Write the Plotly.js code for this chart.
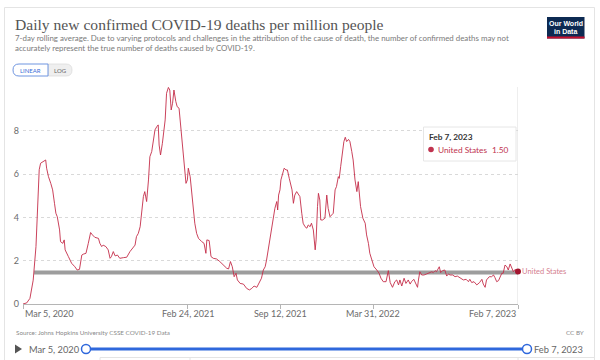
<!DOCTYPE html>
<html>
<head>
<meta charset="utf-8">
<script src="https://cdn.plot.ly/plotly-3.0.1.min.js"></script>
<style>
  html, body { margin: 0; padding: 0; background: #ffffff; }
  #chart { width: 600px; height: 360px; }
</style>
</head>
<body>
<div id="chart"></div>
<script>
// ---------------- DATA ----------------
const startDate = '2020-03-05';
// days since Mar 5, 2020
const dayOffsets = [0,8,15,22,28,31,35,38,44,49,51,55,60,64,68,71,74,79,81,86,89,91,98,105,112,117,122,127,130,136,141,146,150,155,163,166,170,173,179,184,188,191,195,199,204,209,217,224,231,237,242,245,249,253,256,260,263,267,271,274,278,281,285,289,292,294,297,301,304,307,310,314,317,320,323,326,330,333,337,340,345,348,352,355,357,361,364,368,371,375,379,386,391,395,397,402,406,411,418,425,433,440,444,448,452,456,460,463,469,476,483,489,494,499,505,510,515,519,523,526,530,533,537,541,544,548,550,552,555,557,561,564,568,571,575,578,581,584,587,591,595,598,602,605,609,613,616,620,623,627,631,633,636,638,641,643,647,652,656,659,663,667,670,674,677,681,683,686,690,693,696,699,703,706,710,713,717,721,724,726,729,734,739,742,746,749,753,758,764,769,773,778,784,789,793,798,803,807,811,814,818,823,827,832,836,839,844,849,852,854,857,861,866,872,878,883,886,890,893,899,902,906,911,915,919,922,928,933,938,944,951,957,962,965,969,974,980,986,991,994,998,1001,1007,1012,1016,1019,1023,1027,1030,1034,1037,1041,1045,1048,1052,1055,1059,1063,1066,1069];
// daily new confirmed deaths per million, 7-day rolling average
const deathsPerMillion = [0.00,0.05,0.26,1.10,2.65,4.20,6.20,6.50,6.57,6.65,6.27,5.88,5.57,5.27,4.65,4.19,4.03,3.42,2.88,2.80,2.96,2.50,2.19,1.88,1.72,1.57,1.60,2.26,2.30,2.34,2.80,3.30,3.19,3.08,3.03,2.80,2.65,2.72,2.65,2.50,2.11,2.19,2.42,2.22,2.26,2.11,2.14,2.16,2.42,2.57,2.72,3.11,3.26,3.57,4.19,4.96,5.19,4.73,5.73,6.80,7.04,7.50,8.04,8.19,8.27,7.34,6.88,7.42,8.04,8.50,9.73,10.00,9.88,8.96,9.27,9.88,9.35,9.11,9.04,8.34,7.27,6.65,5.57,5.73,6.27,5.88,5.11,4.34,3.73,3.26,3.03,2.88,2.80,2.34,2.96,2.93,2.19,2.11,2.08,1.96,1.80,1.65,1.62,1.96,1.72,1.26,1.42,1.11,0.95,0.92,0.72,0.65,0.72,0.83,0.77,0.95,1.19,1.57,1.72,2.03,2.57,3.03,3.57,4.03,4.42,4.73,4.34,5.03,5.27,5.73,6.04,6.27,6.19,6.19,5.80,5.57,5.27,4.65,5.03,5.19,5.03,4.96,4.19,3.73,3.57,3.50,3.65,3.57,3.73,3.42,2.50,2.96,4.50,5.11,4.80,3.88,3.88,3.96,5.03,4.42,4.03,4.11,4.19,5.27,5.42,5.88,5.80,6.34,6.96,7.50,7.70,7.50,7.60,7.50,7.04,6.65,5.73,5.19,5.65,5.11,4.50,3.96,3.73,3.19,2.80,2.34,2.03,1.72,1.57,1.42,1.19,1.03,1.03,1.54,0.99,0.77,1.03,1.11,0.88,1.11,0.83,1.19,0.95,1.11,0.92,1.03,1.14,0.92,0.77,1.11,1.49,1.34,1.34,1.39,1.45,1.49,1.45,1.54,1.49,1.72,1.45,1.54,1.57,1.29,1.39,1.34,1.34,1.26,1.29,1.19,1.11,1.14,1.03,1.14,0.99,1.03,0.88,0.99,1.14,0.92,0.77,1.11,1.26,1.26,1.34,1.23,1.03,1.08,1.26,1.42,1.42,1.80,1.72,1.57,1.85,1.72,1.49,1.60,1.49,1.50];
const entityName = 'United States';
const tickDates  = ['2020-03-05','2021-02-24','2021-09-12','2022-03-31','2023-02-07'];
const tickLabels = ['Mar 5, 2020','Feb 24, 2021','Sep 12, 2021','Mar 31, 2022','Feb 7, 2023'];
const yTickValues = [0, 2, 4, 6, 8];
const refLineDates = ['2020-03-29', '2023-02-07'];
const refLineValue = 1.46;
const rangeStartLabel = 'Mar 5, 2020';
const rangeEndLabel = 'Feb 7, 2023';

// ---------------- BUILD ----------------
const t0 = Date.UTC(2020, 2, 5);
const dates = dayOffsets.map(d => new Date(t0 + d * 86400000).toISOString().slice(0, 10));
const lastDate = dates[dates.length - 1];
const lastVal = deathsPerMillion[deathsPerMillion.length - 1];

const LINE = '#c42c48';
const CRIMSON = '#c0334f';

// pixel -> paper helpers (plot area: x 23..518, y 87..304)
const L = 23, R = 518, T = 87, B = 304;
const px = x => (x - L) / (R - L);
const py = y => (B - y) / (B - T);

const FONT = 'Lato, Open Sans, sans-serif';
const SERIF = '"Liberation Serif", "DejaVu Serif", serif';

const traces = [
  { x: refLineDates, y: [refLineValue, refLineValue], type: 'scatter', mode: 'lines',
    line: { color: 'rgba(140,140,140,0.85)', width: 4 }, hoverinfo: 'skip', showlegend: false },
  { x: dates, y: deathsPerMillion, type: 'scatter', mode: 'lines',
    line: { color: LINE, width: 0.9 }, name: entityName, showlegend: false },
  { x: [lastDate], y: [lastVal], type: 'scatter', mode: 'markers',
    marker: { color: '#a3152f', size: 6 }, showlegend: false, cliponaxis: false }
];

const ann = [];
function txt(text, x, y, size, color, anchor, family) {
  ann.push({ text: text, xref: 'paper', yref: 'paper', x: px(x), y: py(y),
    xanchor: anchor || 'left', yanchor: 'middle', showarrow: false,
    font: { family: family || FONT, size: size, color: color } });
}
// header
txt('Daily new confirmed COVID-19 deaths per million people', 13, 24, 15.6, '#555555', 'left', SERIF);
txt('7-day rolling average. Due to varying protocols and challenges in the attribution of the cause of death, the number of confirmed deaths may not', 13, 38, 7.9, '#7a7a7a');
txt('accurately represent the true number of deaths caused by COVID-19.', 13, 48, 7.9, '#7a7a7a');
txt('LINEAR', 30.5, 70, 6, '#3a6fd8', 'center');
txt('LOG', 60, 70, 6, '#666666', 'center');
// logo
txt('<b>Our World</b>', 565.5, 23.5, 7, '#ffffff', 'center', 'Liberation Sans, Arial, sans-serif');
txt('<b>in Data</b>', 565.5, 31, 7, '#ffffff', 'center', 'Liberation Sans, Arial, sans-serif');
// x tick labels
tickLabels.forEach((lab, i) => {
  const anchor = i === 0 ? 'left' : (i === tickLabels.length - 1 ? 'right' : 'center');
  ann.push({ text: lab, xref: 'x', yref: 'paper', x: tickDates[i], y: py(313), xanchor: anchor,
    yanchor: 'middle', showarrow: false, font: { family: FONT, size: 9, color: '#6b6b6b' } });
});
// end label
ann.push({ text: entityName, xref: 'x', yref: 'y', x: lastDate, y: lastVal, xanchor: 'left', yanchor: 'middle',
  xshift: 2, showarrow: false, font: { family: FONT, size: 7.5, color: '#d4808f' } });
// tooltip
txt('<b>' + rangeEndLabel + '</b>', 427, 137, 8.3, '#333333');
txt(entityName, 436, 149.5, 8.3, CRIMSON);
txt(lastVal.toFixed(2), 511, 149.5, 8.3, CRIMSON, 'right');
// footer
txt('Source: Johns Hopkins University CSSE COVID-19 Data', 14, 332, 6.3, '#8a8a8a');
txt('CC BY', 586, 332, 6.3, '#8a8a8a', 'right');
txt(rangeStartLabel, 27, 349, 9.3, '#666666');
txt(rangeEndLabel, 585, 349, 9.3, '#666666', 'right');

const shapes = [];
function rectP(x0, y0, x1, y1, line, fill, layer) {
  shapes.push({ type: 'rect', xref: 'paper', yref: 'paper', x0: px(x0), x1: px(x1), y0: py(y0), y1: py(y1),
    line: line, fillcolor: fill, layer: layer || 'below' });
}
function pathP(pts, close, line, fill, layer) {
  let d = '';
  pts.forEach((p, i) => {
    if (p[0] === 'Q') d += ' Q' + px(p[1]) + ',' + py(p[2]) + ' ' + px(p[3]) + ',' + py(p[4]);
    else d += (i === 0 ? 'M' : ' L') + px(p[0]) + ',' + py(p[1]);
  });
  if (close) d += ' Z';
  shapes.push({ type: 'path', xref: 'paper', yref: 'paper', path: d, line: line, fillcolor: fill, layer: layer || 'above' });
}
function circleP(cx, cy, r, line, fill) {
  shapes.push({ type: 'circle', xref: 'paper', yref: 'paper', x0: px(cx - r), x1: px(cx + r), y0: py(cy + r), y1: py(cy - r),
    line: line, fillcolor: fill, layer: 'above' });
}
// card
rectP(4.5, 7.5, 594.5, 372, { color: '#e4e4e4', width: 1 }, '#ffffff');
// logo
rectP(547, 17, 584.5, 38.5, { width: 0 }, '#0d2a52', 'above');
rectP(547, 36.5, 584.5, 38.5, { width: 0 }, '#c8102e', 'above');
// LOG button (grey, rounded right)
pathP([[48, 64], [66, 64], ['Q', 72, 64, 72, 70], ['Q', 72, 76, 66, 76], [48, 76]], true, { width: 0.8, color: '#dcdcdc' }, '#efefef', 'below');
// LINEAR button (blue outline, rounded left)
pathP([[48, 64], [19, 64], ['Q', 13, 64, 13, 70], ['Q', 13, 76, 19, 76], [48, 76]], true, { width: 1, color: '#6f95e0' }, '#ffffff', 'below');
// hover vertical line at end
shapes.push({ type: 'line', xref: 'x', yref: 'paper', x0: lastDate, x1: lastDate, y0: 0, y1: 1,
  line: { color: '#dddddd', width: 1 }, layer: 'below' });
// tooltip box
rectP(423.5, 127, 516, 161, { color: '#e6e6e6', width: 1 }, '#ffffff', 'above');
circleP(431, 149.5, 2.8, { width: 0 }, CRIMSON);
// slider
pathP([[15, 344.5], [22, 349], [15, 353.5]], true, { width: 0 }, '#555555');
shapes.push({ type: 'line', xref: 'paper', yref: 'paper', x0: px(86), x1: px(527), y0: py(349), y1: py(349),
  line: { color: '#2f68dc', width: 3 } });
circleP(86, 349, 4.5, { color: '#2f68dc', width: 1.5 }, '#ffffff');
circleP(527, 349, 4.5, { color: '#2f68dc', width: 1.5 }, '#ffffff');
// tab strip hints
shapes.push({ type: 'line', xref: 'paper', yref: 'paper', x0: px(100), x1: px(594), y0: py(357.5), y1: py(357.5),
  line: { color: '#e4e4e4', width: 1 } });
[100, 190, 518].forEach(xv => shapes.push({ type: 'line', xref: 'paper', yref: 'paper', x0: px(xv), x1: px(xv),
  y0: py(357.5), y1: py(362), line: { color: '#e4e4e4', width: 1 } }));

const layout = {
  width: 600, height: 360,
  margin: { l: L, r: 600 - R, t: T, b: 360 - B, pad: 0 },
  paper_bgcolor: '#ffffff', plot_bgcolor: 'rgba(0,0,0,0)',
  showlegend: false, hovermode: false,
  font: { family: FONT, color: '#666666' },
  xaxis: {
    type: 'date', range: ['2020-03-05', lastDate],
    showgrid: false, zeroline: false, showticklabels: false,
    showline: true, linecolor: '#b5b5b5', linewidth: 1,
    tickmode: 'array', tickvals: tickDates, ticks: 'outside', ticklen: 4, tickcolor: '#b5b5b5'
  },
  yaxis: {
    range: [0, 10.02], tickmode: 'array', tickvals: yTickValues, ticktext: yTickValues.map(String),
    showgrid: true, gridcolor: '#d9d9d9', griddash: 'dot', gridwidth: 1,
    zeroline: false, showline: false, ticks: '',
    tickfont: { family: FONT, size: 9, color: '#6b6b6b' }, ticklabelstandoff: 3
  },
  annotations: ann,
  shapes: shapes
};

Plotly.newPlot('chart', traces, layout, { displayModeBar: false, staticPlot: true });
</script>
</body>
</html>
